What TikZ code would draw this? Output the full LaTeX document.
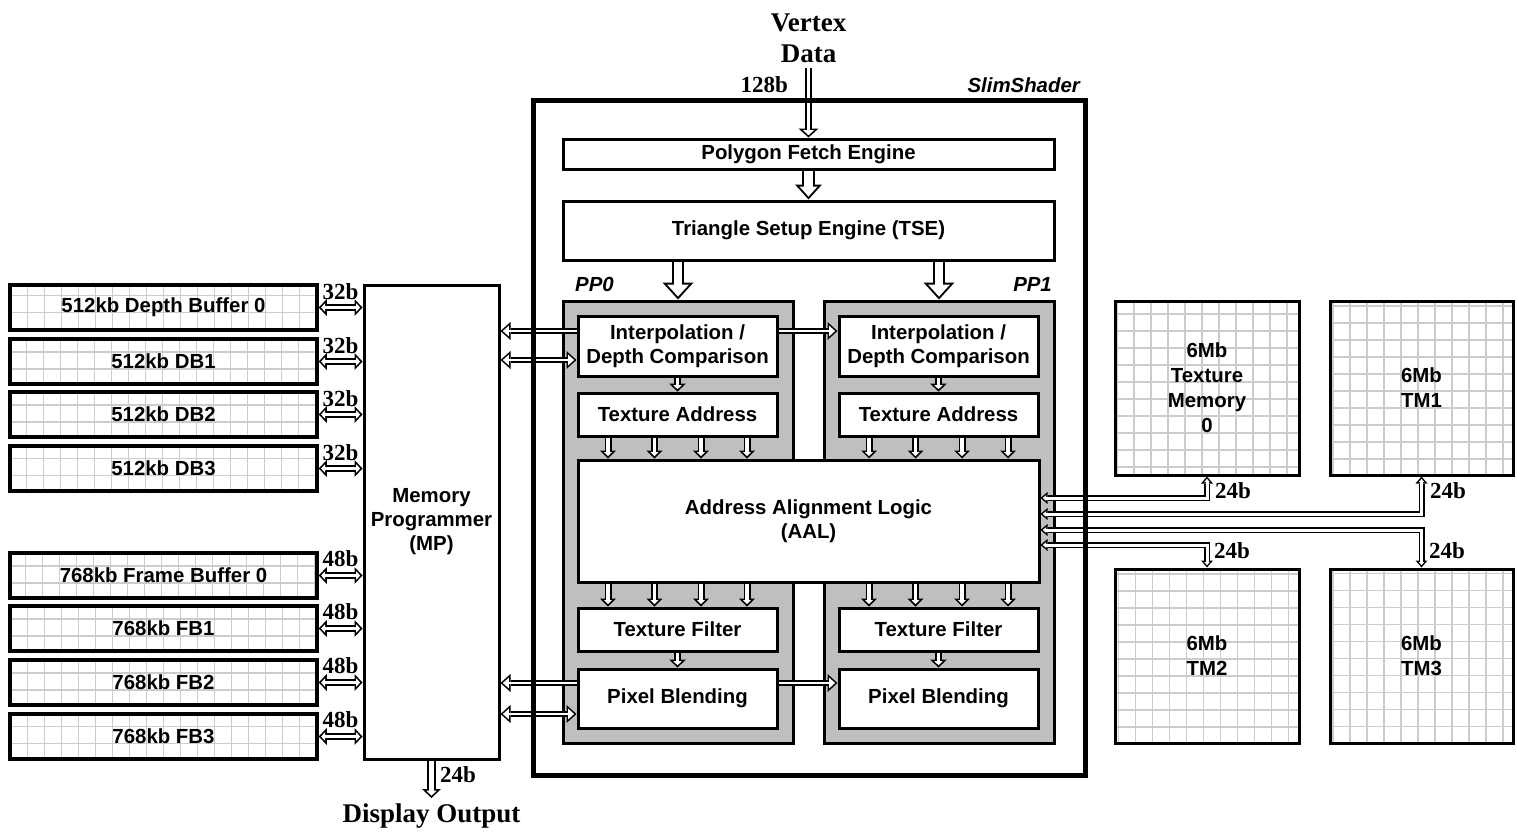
\documentclass[tikz,border=0pt]{standalone}
\usepackage{fontspec}
\setmainfont{Liberation Serif}
\setsansfont{Liberation Sans}
\usetikzlibrary{arrows.meta,calc}

\newcommand\hcalc[4]{%
  \pgfmathsetmacro\hSin{(#2/2)/sqrt((#2/2)^2+(#3)^2)}%
  \pgfmathsetmacro\hD{#4/\hSin}%
  \pgfmathsetmacro\hLi{#3-#4-\hD}%
  \pgfmathsetmacro\hHi{\hLi*(#2)/(#3)}%
  \pgfmathsetmacro\hWi{#1-2*#4}%
}
% hollow arrow, tip at end: W H L t path
\newcommand\harr[5]{%
  \hcalc{#1}{#2}{#3}{#4}%
  \draw[line width=#1pt,-{Triangle[length=#3pt,width=#2pt,line width=0pt]}] #5;
  \draw[white,line width=\hWi pt,shorten >=\hD pt,-{Triangle[length=\hLi pt,width=\hHi pt,line width=0pt]}] #5;
}
% hollow arrow, tips at both ends
\newcommand\hdarr[5]{%
  \hcalc{#1}{#2}{#3}{#4}%
  \draw[line width=#1pt,{Triangle[length=#3pt,width=#2pt,line width=0pt]}-{Triangle[length=#3pt,width=#2pt,line width=0pt]}] #5;
  \draw[white,line width=\hWi pt,shorten >=\hD pt,shorten <=\hD pt,{Triangle[length=\hLi pt,width=\hHi pt,line width=0pt]}-{Triangle[length=\hLi pt,width=\hHi pt,line width=0pt]}] #5;
}

\begin{document}
\begin{tikzpicture}[x=1pt,y=-1pt,
  box/.style={draw, line width=3pt, fill=white, align=center, inner sep=0pt,
    font=\sffamily\bfseries\fontsize{20.4}{24}\selectfont},
  membox/.style={box, line width=3.5pt,
    path picture={\draw[black!20, line width=1.4pt] (path picture bounding box.south west) grid[step=17pt] (path picture bounding box.north east);}},
  ppbox/.style={draw, line width=3pt, fill=black!25, inner sep=0pt},
  lbl/.style={font=\rmfamily\bfseries\fontsize{23}{26}\selectfont, inner sep=0pt},
  big/.style={font=\rmfamily\bfseries\fontsize{27}{31}\selectfont, inner sep=0pt, align=center},
  pplbl/.style={font=\sffamily\bfseries\itshape\fontsize{20.4}{24}\selectfont, inner sep=0pt}
]
\useasboundingbox (0,0) rectangle (1517,831);

% memories on the left
\foreach \i/\yc/\t in {0/307.5/512kb Depth Buffer 0, 1/361.5/512kb DB1, 2/414.5/512kb DB2, 3/468.5/512kb DB3}
  \node[membox, minimum width=307pt, minimum height=45pt] (db\i) at (163.5,\yc) {\t};
\foreach \i/\yc/\t in {0/575.5/768kb Frame Buffer 0, 1/628.5/768kb FB1, 2/682.5/768kb FB2, 3/736.5/768kb FB3}
  \node[membox, minimum width=307pt, minimum height=45pt] (fb\i) at (163.5,\yc) {\t};

% memory programmer
\node[box, minimum width=135pt, minimum height=474pt] (mp) at (431.5,522) {Memory\\Programmer\\(MP)};

% SlimShader frame (border drawn at the end)
\node[minimum width=552pt, minimum height=675pt, inner sep=0pt, outer sep=0pt] (slim) at (809,437.5) {};

\node[box, minimum width=491pt, minimum height=30pt] (pfe) at (808.5,154) {Polygon Fetch Engine};
\node[box, minimum width=491pt, minimum height=59pt] (tse) at (808.5,230.5) {Triangle Setup Engine (TSE)};

\node[ppbox, minimum width=230pt, minimum height=442pt] (pp0) at (678,522) {};
\node[ppbox, minimum width=230pt, minimum height=442pt] (pp1) at (939,522) {};

\foreach \p/\xc in {0/677.5, 1/938.5}{
  \node[box, minimum width=199pt, minimum height=60pt] (interp\p) at (\xc,346) {Interpolation /\\Depth Comparison};
  \node[box, minimum width=199pt, minimum height=43pt] (ta\p) at (\xc,414.5) {Texture Address};
  \node[box, minimum width=199pt, minimum height=43pt] (tf\p) at (\xc,629.5) {Texture Filter};
  \node[box, minimum width=199pt, minimum height=59pt] (pb\p) at (\xc,698.5) {Pixel Blending};
}
\node[box, minimum width=461pt, minimum height=122pt] (aal) at (808.5,521) {Address Alignment Logic\\(AAL)};

% texture memories
\tikzset{tmfont/.style={font=\sffamily\bfseries\fontsize{20.4}{25}\selectfont}}
\node[membox, tmfont, line width=3pt, minimum width=184pt, minimum height=174pt] (tm0) at (1207,388) {6Mb\\Texture\\Memory\\0};
\node[membox, tmfont, line width=3pt, minimum width=183pt, minimum height=174pt] (tm1) at (1421.5,388) {6Mb\\TM1};
\node[membox, tmfont, line width=3pt, minimum width=184pt, minimum height=174pt] (tm2) at (1207,656) {6Mb\\TM2};
\node[membox, tmfont, line width=3pt, minimum width=183pt, minimum height=174pt] (tm3) at (1421.5,656) {6Mb\\TM3};

% helper coordinates
\coordinate (vin) at (808.5,68);
\coordinate (dout) at (431.5,798);
\coordinate (yI1) at (0,331);
\coordinate (yI2) at (0,360);
\coordinate (yP1) at (0,683);
\coordinate (yP2) at (0,714);
\coordinate (yT1) at (0,498);
\coordinate (yT2) at (0,514);
\coordinate (yT3) at (0,530);
\coordinate (yT4) at (0,545);

% arrows
\harr{7}{20}{9}{1.7}{(vin) -- (pfe.north)}
\harr{13}{27}{15}{2}{(pfe.south) -- (tse.north)}
\harr{12}{31}{17}{2}{(tse.south -| pp0.north) -- (pp0.north)}
\harr{12}{31}{17}{2}{(tse.south -| pp1.north) -- (pp1.north)}

\foreach \p in {0,1}{
  \harr{7}{17}{8}{1.7}{(interp\p.south) -- (ta\p.north)}
  \harr{7}{17}{8}{1.7}{(tf\p.south) -- (pb\p.north)}
  \foreach \dx in {-69.5,-23,23.5,69.5}{
    \harr{7}{16}{8}{1.7}{($(ta\p.south)+(\dx,0)$) -- ($(aal.north -| ta\p.south)+(\dx,0)$)}
    \harr{7}{16}{8}{1.7}{($(aal.south -| tf\p.north)+(\dx,0)$) -- ($(tf\p.north)+(\dx,0)$)}
  }
}

\harr{6}{18}{10}{1.6}{(interp0.east |- yI1) -- (interp1.west |- yI1)}
\harr{6}{18}{10}{1.6}{(pb0.east |- yP1) -- (pb1.west |- yP1)}
\harr{6}{18}{10}{1.6}{(interp0.west |- yI1) -- (mp.east |- yI1)}
\hdarr{6}{18}{10}{1.6}{(mp.east |- yI2) -- (interp0.west |- yI2)}
\harr{6}{18}{10}{1.6}{(pb0.west |- yP1) -- (mp.east |- yP1)}
\hdarr{6}{18}{10}{1.6}{(mp.east |- yP2) -- (pb0.west |- yP2)}

\foreach \i in {0,...,3}{
  \hdarr{7}{17}{8}{1.7}{(db\i.east) -- (mp.west |- db\i.east)}
  \hdarr{7}{17}{8}{1.7}{(fb\i.east) -- (mp.west |- fb\i.east)}
}

\hdarr{6}{12}{7}{1.5}{(aal.east |- yT1) -- (tm0.south |- yT1) -- (tm0.south)}
\hdarr{6}{12}{7}{1.5}{(aal.east |- yT2) -- (tm1.south |- yT2) -- (tm1.south)}
\hdarr{6}{12}{7}{1.5}{(aal.east |- yT3) -- (tm3.north |- yT3) -- (tm3.north)}
\hdarr{6}{12}{7}{1.5}{(aal.east |- yT4) -- (tm2.north |- yT4) -- (tm2.north)}

\harr{9}{19}{9}{1.7}{(mp.south) -- (dout)}

% SlimShader border on top
\draw[line width=5pt] (slim.north west) rectangle (slim.south east);

% labels
\node[big] (vtx) at (808.5,38.5) {Vertex\\Data};
\node[lbl, anchor=base east] (b128) at (788,92) {128b};
\node[pplbl, anchor=base east] (slimlbl) at (1080,92) {SlimShader};
\node[pplbl, anchor=base west] (pp0l) at (575,291) {PP0};
\node[pplbl, anchor=base east] (pp1l) at (1052,291) {PP1};
\node[big, anchor=base] (disp) at (431.5,822) {Display Output};
\node[lbl, anchor=base west] (b24d) at (440,782) {24b};
\foreach \i in {0,...,3}{
  \node[lbl, anchor=base] (ldb\i) at ($(db\i.east)!0.5!(mp.west |- db\i.east)+(0,-8)$) {32b};
  \node[lbl, anchor=base] (lfb\i) at ($(fb\i.east)!0.5!(mp.west |- fb\i.east)+(0,-9)$) {48b};
}
\node[lbl, anchor=base west] (l24a) at (1215,498) {24b};
\node[lbl, anchor=base west] (l24b) at (1430,498) {24b};
\node[lbl, anchor=base west] (l24c) at (1214,558) {24b};
\node[lbl, anchor=base west] (l24d) at (1429,558) {24b};
\end{tikzpicture}
\end{document}
